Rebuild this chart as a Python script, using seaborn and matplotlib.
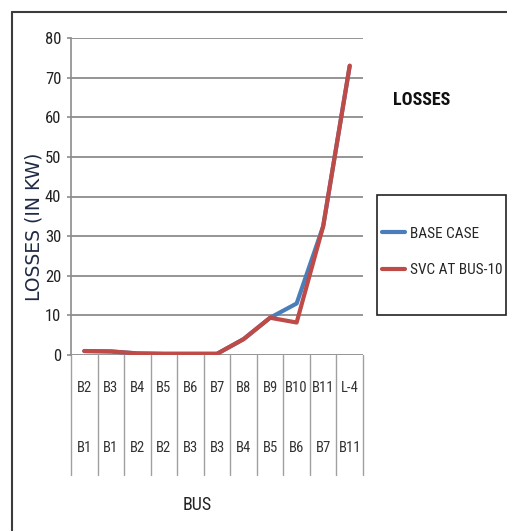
import numpy as np
import pandas as pd
import matplotlib
matplotlib.use("Agg")
import matplotlib.pyplot as plt
import matplotlib.transforms as mtransforms
from matplotlib.lines import Line2D
from matplotlib.patches import Rectangle
import seaborn as sns

top_labels = ['B2', 'B3', 'B4', 'B5', 'B6', 'B7', 'B8', 'B9', 'B10', 'B11', 'L-4']
bottom_labels = ['B1', 'B1', 'B2', 'B2', 'B3', 'B3', 'B4', 'B5', 'B6', 'B7', 'B11']
base_case = [1.0, 0.9, 0.4, 0.3, 0.3, 0.3, 4.0, 9.4, 13.0, 32.5, 73.0]
svc_bus10 = [1.0, 0.9, 0.4, 0.3, 0.3, 0.3, 4.0, 9.4, 8.2, 32.5, 73.0]
series_names = ['BASE CASE', 'SVC AT BUS-10']
y_ticks = [0, 10, 20, 30, 40, 50, 60, 70, 80]

sns.set_style("white")
narrow = ['Liberation Sans Narrow', 'Roboto Condensed', 'DejaVu Sans']
plt.rcParams['font.family'] = narrow
plt.rcParams['font.stretch'] = 'condensed'

W, H = 507, 531
fig = plt.figure(figsize=(W / 100, H / 100), dpi=100)
ax = fig.add_axes([71 / W, 1 - 355 / H, (363 - 71) / W, (355 - 38) / H])

pos = np.arange(len(top_labels))
df = pd.DataFrame({
    'pos': np.concatenate([pos, pos]),
    'loss': base_case + svc_bus10,
    'series': [series_names[0]] * len(pos) + [series_names[1]] * len(pos),
})
colors = {'BASE CASE': '#4a7ebb', 'SVC AT BUS-10': '#be4b48'}
sns.lineplot(data=df, x='pos', y='loss', hue='series', palette=colors,
             linewidth=3.0, ax=ax, legend=False)

ax.set_xlim(-0.5, len(pos) - 0.5)
ax.set_ylim(0, 80)
ax.set_yticks(y_ticks)
ax.set_yticklabels([str(v) for v in y_ticks], fontsize=12, color='#222222')
ax.set_xticks([])
ax.set_xlabel('')
ax.set_ylabel('')
ax.yaxis.grid(True, color='#8c8c8c', linewidth=1.3)
ax.set_axisbelow(True)
ax.tick_params(axis='y', length=3, width=1.2, color='#8c8c8c', pad=4, left=True)
for side in ['top', 'right', 'bottom']:
    ax.spines[side].set_visible(False)
ax.spines['left'].set_color('#8c8c8c')
ax.spines['left'].set_linewidth(1.2)

# category dividers and two-row labels below the axis
trans = mtransforms.blended_transform_factory(ax.transData, ax.transAxes)
ax_h = 355 - 38
for b in np.arange(-0.5, len(pos), 1.0):
    ax.plot([b, b], [0, -120 / ax_h], transform=trans, color='#a0a0a0',
            linewidth=1.0, clip_on=False)
for i in pos:
    ax.text(i, -33 / ax_h, top_labels[i], transform=trans, ha='center', va='center',
            fontsize=10.5, color='#333333')
    ax.text(i, -93 / ax_h, bottom_labels[i], transform=trans, ha='center', va='center',
            fontsize=10.5, color='#333333')

fig.text(197 / W, 1 - 505 / H, 'BUS', ha='center', va='center', fontsize=13, color='#222222')
fig.text(34 / W, 1 - 227 / H, 'LOSSES (IN KW)', rotation=90, ha='center', va='center',
         fontsize=13.5, color='#1f2a44', family=['DejaVu Sans'], stretch='normal')
fig.text(422 / W, 1 - 100 / H, 'LOSSES', ha='center', va='center', fontsize=13,
         fontweight='bold', color='#111111')

# legend box
fig.add_artist(Rectangle((377 / W, 1 - 315 / H), 129 / W, 120 / H, transform=fig.transFigure,
                         facecolor='white', edgecolor='#222222', linewidth=1.2))
handles = [Line2D([], [], color=colors[n], linewidth=3.0) for n in series_names]
fig.legend(handles, series_names, loc='center left', bbox_to_anchor=(379 / W, 1 - 252 / H),
           frameon=False, fontsize=11, handlelength=1.5, handletextpad=0.35,
           labelspacing=1.5, borderpad=0.2, borderaxespad=0)

# outer chart frame (left and top edges)
fig.add_artist(Line2D([12 / W, 12 / W], [0, 1 - 12 / H], transform=fig.transFigure,
                      color='#3c3c3c', linewidth=1.5))
fig.add_artist(Line2D([12 / W, 1], [1 - 12 / H, 1 - 12 / H], transform=fig.transFigure,
                      color='#3c3c3c', linewidth=1.5))

fig.savefig('out.png', dpi=100)
